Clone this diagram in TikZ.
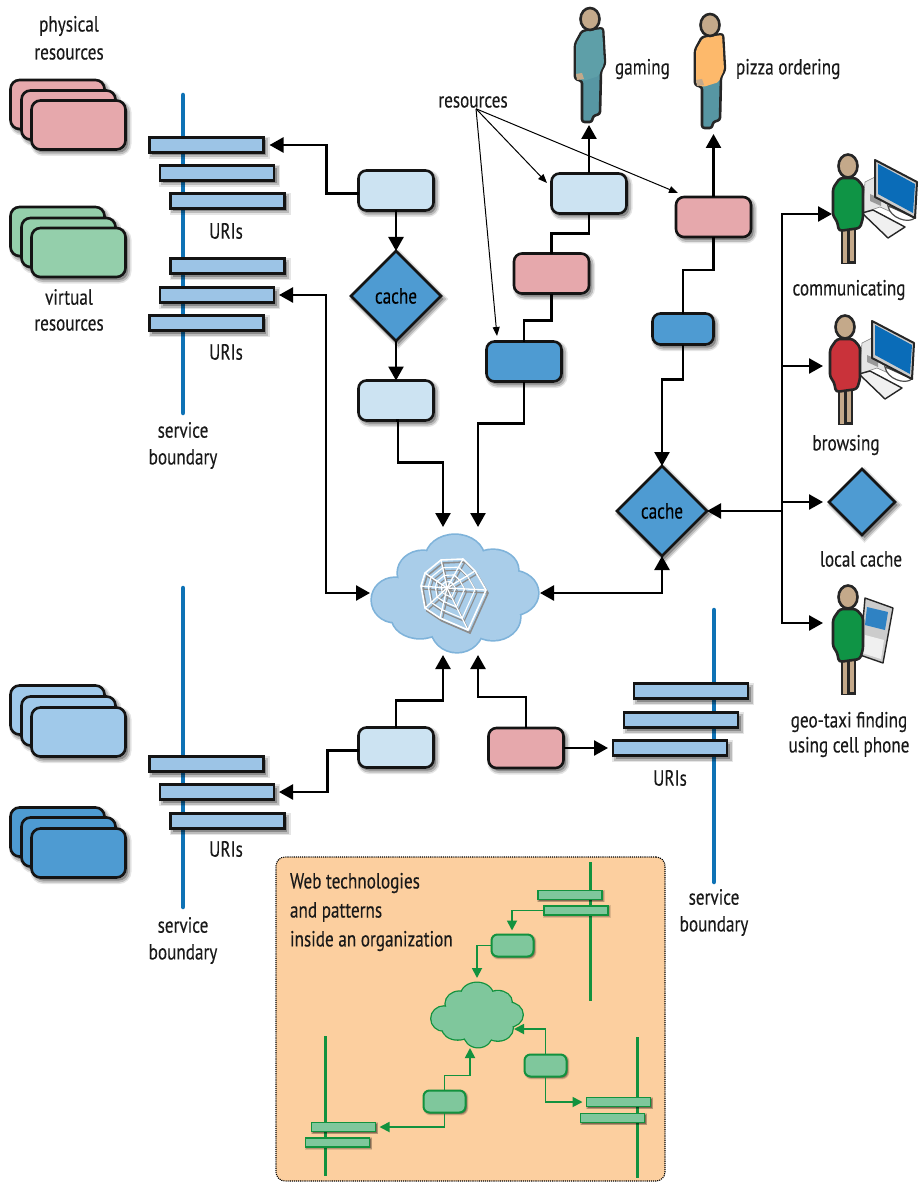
\documentclass[tikz,border=0pt]{standalone}
\usepackage{fontspec}
\setmainfont[FakeStretch=0.78,FakeBold=0.25]{PT Sans}
\usetikzlibrary{arrows.meta,shapes.geometric,calc}
\definecolor{cLight}{HTML}{CCE3F2}
\definecolor{cPink}{HTML}{E6A8AC}
\definecolor{cDark}{HTML}{4E9BD2}
\definecolor{cBar}{HTML}{9CC4E6}
\definecolor{cMint}{HTML}{94CFAB}
\definecolor{cStack}{HTML}{A0C9EA}
\definecolor{cLine}{HTML}{0E72B5}
\definecolor{cCloud}{HTML}{A9CDE9}
\definecolor{cCloudB}{HTML}{7FB3DA}
\definecolor{cInset}{HTML}{FCCF9F}
\definecolor{gLine}{HTML}{12923E}
\definecolor{gFill}{HTML}{7FC79C}
\definecolor{cSkin}{HTML}{C4A98A}
\definecolor{cTeal}{HTML}{5E9FA8}
\definecolor{cTeal2}{HTML}{5796A3}
\definecolor{cOrange}{HTML}{FDB96B}
\definecolor{cGreenP}{HTML}{0F9445}
\definecolor{cRedP}{HTML}{C9323A}
\definecolor{cScreen}{HTML}{0A6CB8}
\tikzset{
  softshadow/.style={
    preaction={draw=black,fill=black,draw opacity=.10,fill opacity=.10,line width=7pt,transform canvas={shift={(2.5pt,-3pt)}}},
    preaction={draw=black,fill=black,draw opacity=.18,fill opacity=.18,line width=4pt,transform canvas={shift={(2.5pt,-3pt)}}}},
  softshadowS/.style={
    preaction={draw=black,fill=black,draw opacity=.12,fill opacity=.12,line width=3.5pt,transform canvas={shift={(1.2pt,-1.2pt)}}},
    preaction={draw=black,fill=black,draw opacity=.18,fill opacity=.18,line width=2pt,transform canvas={shift={(1.2pt,-1.2pt)}}}},
  rbox/.style={draw=black!92,line width=2.6pt,rounded corners=8pt,minimum width=75pt,minimum height=40pt,inner sep=0pt,outer sep=0pt,softshadow},
  sbox/.style={draw=black!92,line width=2.6pt,rounded corners=9pt,minimum width=94pt,minimum height=49pt,inner sep=0pt,outer sep=0pt,softshadow},
  bar/.style={draw=black!92,line width=2.6pt,fill=cBar,minimum width=114pt,minimum height=15pt,inner sep=0pt,outer sep=0pt,softshadow},
  dia/.style={diamond,aspect=1,draw=black!92,line width=2.6pt,fill=cDark,inner sep=0pt,outer sep=0pt,softshadow},
  boundary/.style={line width=4.5pt,draw=cLine,line cap=round},
  lbl/.style={inner sep=0pt,outer sep=0pt,font=\fontsize{22}{22}\selectfont,text=black!90},
  conn/.style={line width=2.5pt,draw=black,>={Triangle[length=14pt,width=15pt]}},
  thinconn/.style={line width=1pt,draw=black,>={Triangle[length=9pt,width=7pt]}},
  gconn/.style={line width=1.8pt,draw=gLine,>={Triangle[length=10pt,width=10pt]}},
  gbox/.style={draw=gLine,line width=2pt,fill=gFill,rounded corners=6pt,minimum width=42pt,minimum height=22pt,inner sep=0pt,outer sep=0pt,softshadowS},
  gbar/.style={draw=gLine,line width=1.5pt,fill=gFill,minimum width=64pt,minimum height=9pt,inner sep=0pt,outer sep=0pt,softshadowS},
  gbound/.style={line width=3pt,draw=gLine},
}
\newcommand\cloudlobes[1]{%
  #1 (0,-35.5) ellipse [x radius=29,y radius=23];
  #1 (-32,-20.5) ellipse [x radius=25,y radius=22];
  #1 (-60,6.5) ellipse [x radius=23,y radius=22];
  #1 (-35,23.5) ellipse [x radius=28,y radius=21];
  #1 (2,33.5) ellipse [x radius=26,y radius=25];
  #1 (38,23.5) ellipse [x radius=27,y radius=23];
  #1 (57,-0.5) ellipse [x radius=26,y radius=22];
  #1 (38,-23.5) ellipse [x radius=25,y radius=20];
  #1 (0,0) ellipse [x radius=45,y radius=35];
}
\newcommand\webring[2]{\draw[#1,line width=#2] (-6,-28) -- (16,-29) -- (28,-17) -- (39,2) -- (21,42) -- (-7,30) -- (-22,20) -- (-26,-2) -- (-22,-15) -- cycle;}
\newcommand\webdraw[1]{%
  \foreach \p in {(-6,-28),(16,-29),(28,-17),(39,2),(21,42),(-7,30),(-22,20),(-26,-2),(-22,-15)} {\draw[#1,line width=1.3pt] (0,0) -- \p;}
  \webring{#1}{1.6pt}
  \begin{scope}[scale=.72]\webring{#1}{1.1pt}\end{scope}
  \begin{scope}[scale=.45]\webring{#1}{1.1pt}\end{scope}
  \begin{scope}[scale=.22]\webring{#1}{1pt}\end{scope}
}
\newcommand\personA[4]{\begin{scope}[shift={(#1,#2)}]
  \filldraw[draw=black!85,line width=2.6pt,fill=#4,line join=round,rounded corners=2.5pt] (-8,12) -- (13,9) -- (15,45) -- (11,52) -- (10,95) -- (3,97) -- (2,103) -- (-8,103) -- (-8,62) -- (-15,60) -- (-15,25) -- cycle;
  \fill[#3,rounded corners=2pt] (-7,13) -- (12,10) -- (14,45) -- (10,53) -- (9,57) -- (-7,62) -- (-14,59) -- (-14,25) -- cycle;
  \fill[cSkin] (-14,55) -- (-8,54) -- (-6,60) -- (-13,61) -- cycle;
  \filldraw[draw=black!85,line width=2.6pt,fill=cSkin] (0,0) ellipse [x radius=9.5,y radius=11];
\end{scope}}
\newcommand\personB[3]{\begin{scope}[shift={(#1,#2)}]
  \fill[black!85] (-7.5,60) rectangle (7.5,98);
  \fill[cSkin] (-5.5,62) rectangle (-1.5,96.5);
  \fill[cSkin] (2,62) rectangle (5.5,94.5);
  \filldraw[draw=black!85,line width=2.6pt,fill=#3,line join=round,rounded corners=3pt] (-8,12) -- (8,12) -- (15,20) -- (15,52) -- (12,62) -- (-9,65) -- (-11,55) -- (-15,50) -- (-15,22) -- cycle;
  \filldraw[draw=black!85,line width=2.6pt,fill=cSkin] (0,0) ellipse [x radius=9.5,y radius=11.5];
\end{scope}}
\newcommand\computer[2]{\begin{scope}[shift={(#1,#2)}]
  \filldraw[draw=black!50,line width=.6pt,fill=black!10] (17,16) -- (27,11) -- (50,30) -- (48,48) -- (32,41) -- (14,47) -- cycle;
  \fill[black!40] (22,28) -- (33,33) -- (33,40) -- (22,35) -- cycle;
  \draw[black!70,line width=1.2pt,fill=white] (40,40) .. controls (42,52) and (60,58) .. (67,52) -- (45,42) -- cycle;
  \filldraw[draw=black!85,line width=2pt,fill=black!20,line join=round] (27,-6) -- (69,16) -- (67,52) -- (27,31) -- cycle;
  \fill[cScreen] (30,-2) -- (67,18) -- (65,47) -- (30,28) -- cycle;
  \filldraw[draw=black!85,line width=1.4pt,fill=black!6,line join=round] (14,47) -- (25,44) -- (57,61) -- (40,72) -- cycle;
\end{scope}}
\newcommand\stackboxes[4]{%
  \node[sbox,fill=#1] at (57.5,#2) {};
  \node[sbox,fill=#1] at (68.5,#3) {};
  \node[sbox,fill=#1] at (78.5,#4) {};
}
\begin{document}
\begin{tikzpicture}[x=1pt,y=-1pt]
\useasboundingbox (0,0) rectangle (918,1182);
\node[draw=black,densely dotted,line width=1.1pt,fill=cInset,rounded corners=9pt,minimum width=389pt,minimum height=324pt,inner sep=0pt,outer sep=0pt] (inset) at (470.5,1019) {};
\draw[boundary] (183,95) -- (183,413);
\draw[boundary] (183,588) -- (183,907);
\draw[boundary] (714,610) -- (714,882);
\stackboxes{cPink}{104.5}{115}{125}
\stackboxes{cMint}{231.5}{242.5}{252.5}
\stackboxes{cStack}{710}{721}{732}
\stackboxes{cDark}{832}{842}{853}
\node[bar] (b1) at (206.5,145) {};
\node[bar] (b2) at (217,173) {};
\node[bar] (b3) at (227.5,201) {};
\node[bar] (b4) at (227.5,266) {};
\node[bar] (b5) at (217,295) {};
\node[bar] (b6) at (206.5,323) {};
\node[bar] (b7) at (206.5,764) {};
\node[bar] (b8) at (217,792) {};
\node[bar] (b9) at (227.5,821) {};
\node[bar] (r1) at (691,691) {};
\node[bar] (r2) at (681,720) {};
\node[bar] (r3) at (670,748) {};
\node[rbox,fill=cLight] (A) at (396,190.5) {};
\node[rbox,fill=cLight] (B) at (396,400.5) {};
\node[rbox,fill=cLight] (C) at (589,193.5) {};
\node[rbox,fill=cPink] (D) at (551.5,273.5) {};
\node[rbox,fill=cDark] (E) at (524,361.5) {};
\node[rbox,fill=cPink] (F) at (713.5,217) {};
\node[rbox,fill=cDark,minimum width=61pt,minimum height=31pt] (G) at (683,329) {};
\node[rbox,fill=cLight] (H) at (396,747.5) {};
\node[rbox,fill=cPink] (I) at (526,748) {};
\node[dia,minimum width=90pt,minimum height=90pt,font=\fontsize{22}{22}\selectfont] (cache1) at (396,296) {cache};
\node[dia,minimum width=90pt,minimum height=90pt,font=\fontsize{22}{22}\selectfont] (cache2) at (662,511) {cache};
\node[dia,minimum width=66pt,minimum height=66pt] (cache3) at (862,502) {};
\node[inner sep=0pt,outer sep=0pt,minimum width=166pt,minimum height=117pt] (cloud) at (455,593.5) {};
\begin{scope}[shift={(455,593.5)}]
  \cloudlobes{\draw[draw=cCloudB,line width=3.4pt]}
  \cloudlobes{\fill[cCloud]}
\end{scope}
\begin{scope}[shift={(449,591)}]\webdraw{black!45}\end{scope}
\begin{scope}[shift={(447,588)}]\webdraw{white}\end{scope}
\coordinate (cloudNL) at (443,527);
\coordinate (cloudNR) at (478,527);
\coordinate (cloudSL) at (443,655);
\coordinate (cloudSR) at (478,655);
\coordinate (cloudW) at (370,593);
\coordinate (cloudE) at (540,593);
\coordinate (gamingFoot) at (589,125);
\coordinate (pizzaFoot) at (713.5,134);
\coordinate (trunk) at (782,511);
\coordinate (commIn) at (832,214);
\coordinate (browIn) at (823,366);
\coordinate (localIn) at (823,502);
\coordinate (geoIn) at (823,623);
\coordinate (resE) at (497,336);
\coordinate (resC) at (547,183);
\coordinate (resF) at (678,193);
\draw[conn,->,shorten >=6pt] ([yshift=-3pt]A.west) -- ++(-32,0) |- (b1.east);
\draw[conn,->] (A.south) -- (cache1.north);
\draw[conn,->] (cache1.south) -- (B.north);
\draw[conn,->] (B.south) -- ++(2,0) -- ++(0,42) -| (cloudNL);
\draw[conn,->] (E.south) -- ++(0,42) -| (cloudNR);
\draw[conn] (E.north) -- ++(0,-21) -| (D.south);
\draw[conn] (D.north) -- ++(0,-20) -| (C.south);
\draw[conn,->] (C.north) -- (gamingFoot);
\draw[conn,->] (F.north) -- (pizzaFoot);
\draw[conn] (F.south) -- ++(0,33) -| (G.north);
\draw[conn,->] (G.south) -- ++(0,35) -| (cache2.north);
\draw[conn,<->,shorten <=5pt] (b5.east) -- ++(52,0) |- (cloudW);
\draw[conn,->] (H.north) -- ++(0,-27) -| (cloudSL);
\draw[conn,->,shorten >=5pt] ([yshift=-3pt]H.west) -- ++(-31,0) |- (b8.east);
\draw[conn,->] (I.north) -- ++(0,-31) -| (cloudSR);
\draw[conn,->,shorten >=5pt] (I.east) -- (r3.west);
\draw[conn,<->] (cloudE) -| (cache2.south);
\draw[conn,<-] (cache2.east) -- (trunk);
\draw[conn,->] (trunk) |- (commIn);
\draw[conn,->] (trunk) |- (browIn);
\draw[conn,->] (trunk) |- (localIn);
\draw[conn,->] (trunk) |- (geoIn);
\node[lbl] (res) at (473,102) {resources};
\draw[thinconn,->] ([xshift=3pt,yshift=-1pt]res.south) -- (resE);
\draw[thinconn,->] ([xshift=3pt,yshift=-1pt]res.south) -- (resC);
\draw[thinconn,->] ([xshift=3pt,yshift=-1pt]res.south) -- (resF);
\personA{590}{19}{cTeal}{cTeal2}
\personA{710}{25}{cOrange}{cTeal2}
\computer{848}{166}
\personB{848}{166}{cGreenP}
\computer{845}{327}
\personB{845}{327}{cRedP}
\begin{scope}[shift={(848,597)}]
  \filldraw[draw=black!85,line width=1.4pt,fill=black!20,line join=round] (17,1) -- (45,11) -- (35,66) -- (12,58) -- cycle;
  \fill[cScreen!85] (19,10) -- (40,15) -- (37,33) -- (17,28) -- cycle;
  \fill[black!6] (17,38) -- (36,43) -- (33,62) -- (14,56) -- cycle;
\end{scope}
\personB{848}{597}{cGreenP}
\node[lbl] (t1) at (69,26) {physical};
\node[lbl] (t2) at (69,54) {resources};
\node[lbl] (t3) at (69,297) {virtual};
\node[lbl] (t4) at (69,325) {resources};
\node[lbl] (u1) at (226,231) {URIs};
\node[lbl] (u2) at (226,352) {URIs};
\node[lbl] (u3) at (226,849) {URIs};
\node[lbl] (u4) at (670,778) {URIs};
\node[lbl] (s1) at (183,430) {service};
\node[lbl] (s2) at (183,459) {boundary};
\node[lbl] (s3) at (183,925) {service};
\node[lbl] (s4) at (183,954) {boundary};
\node[lbl] (s5) at (714,897) {service};
\node[lbl] (s6) at (714,926) {boundary};
\node[lbl,anchor=west] (g1) at (615,69) {gaming};
\node[lbl,anchor=west] (g2) at (736,69) {pizza ordering};
\node[lbl] (g3) at (849,290) {communicating};
\node[lbl] (g4) at (846,445) {browsing};
\node[lbl] (g5) at (861,559) {local cache};
\node[lbl] (g6) at (849,722) {geo-taxi finding};
\node[lbl] (g7) at (849,747) {using cell phone};
\node[lbl,anchor=west] (w1) at (290,883) {Web technologies};
\node[lbl,anchor=west] (w2) at (290,912) {and patterns};
\node[lbl,anchor=west] (w3) at (290,941) {inside an organization};
\draw[gbound] (590,862) -- (590,1001);
\draw[gbound] (325,1036) -- (325,1176);
\draw[gbound] (637,1037) -- (637,1178);
\node[gbar] (ga) at (570,895) {};
\node[gbar] (gb) at (576,910.5) {};
\node[gbar] (gc) at (343.5,1127) {};
\node[gbar] (gd) at (337.5,1142.5) {};
\node[gbar] (ge) at (618.5,1102) {};
\node[gbar] (gf) at (612.5,1118) {};
\node[gbox] (gp) at (512.5,945.5) {};
\node[gbox] (gq) at (444.5,1101.5) {};
\node[gbox] (gr) at (545.5,1065.5) {};
\node[inner sep=0pt,outer sep=0pt,minimum width=92pt,minimum height=64pt] (gcloud) at (477,1015) {};
\begin{scope}[shift={(477,1015)},scale=.55]
  \cloudlobes{\draw[draw=gLine,line width=2.6pt]}
  \cloudlobes{\fill[gFill]}
\end{scope}
\coordinate (gcN) at (477,978);
\coordinate (gcS) at (470,1048);
\coordinate (gcE) at (514,1029);
\draw[gconn,->] (gb.west) -- ++(-32,0) -- ++(0,20);
\draw[gconn,->] (gp.west) -| (gcN);
\draw[gconn,->] (gq.north) -- ++(0,-15) -| (gcS);
\draw[gconn,->,shorten >=4pt] (gq.south) |- (gc.east);
\draw[gconn,->] (gr.north) |- (gcE);
\draw[gconn,->,shorten >=4pt] (gr.south) |- (ge.west);
\end{tikzpicture}
\end{document}
